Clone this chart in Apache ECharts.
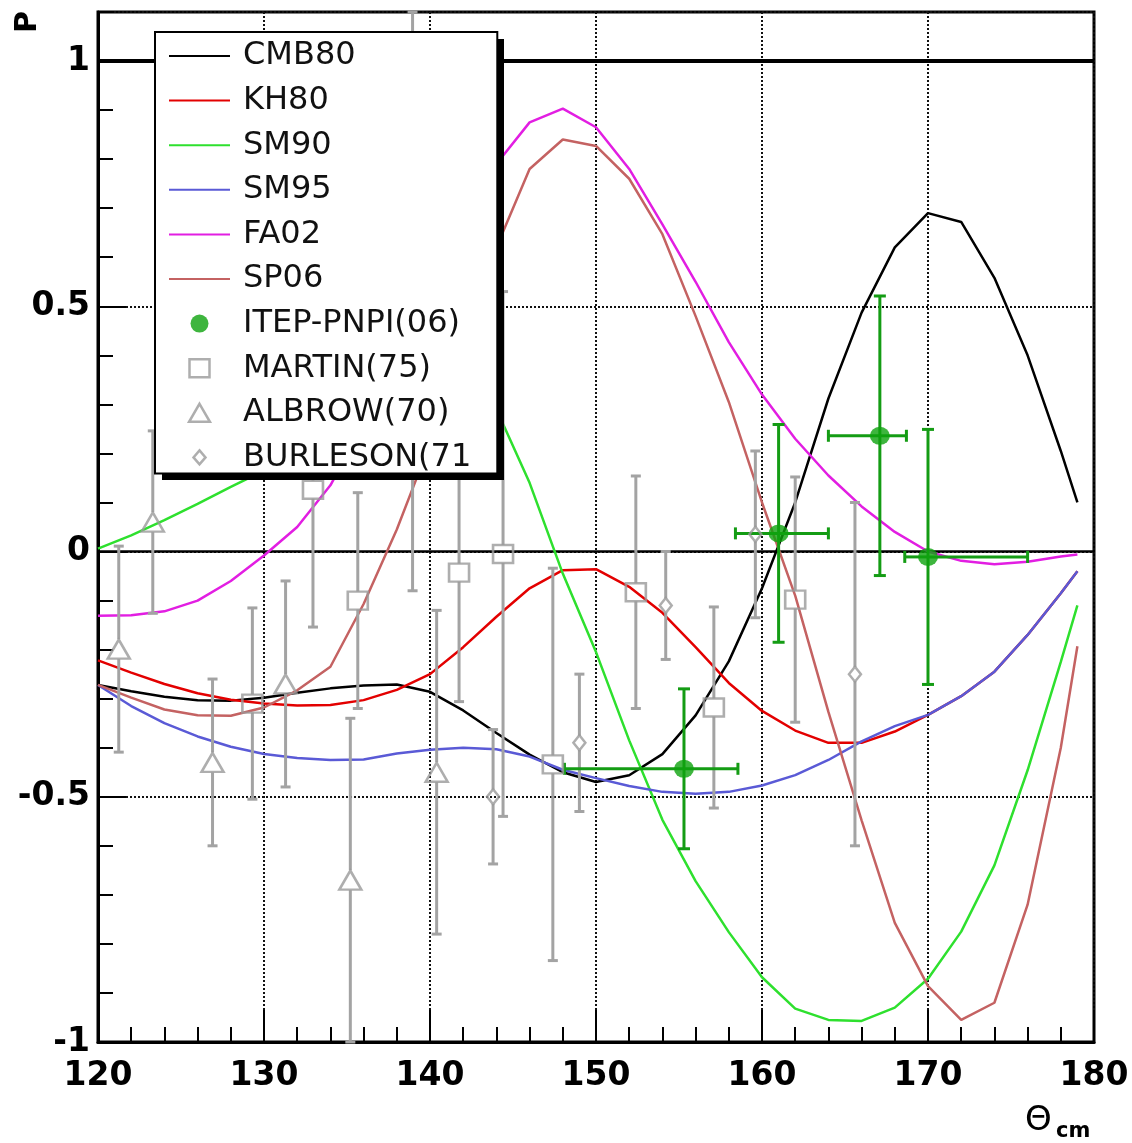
<!DOCTYPE html>
<html><head><meta charset="utf-8">
<script src="https://cdn.jsdelivr.net/npm/echarts@6/dist/echarts.min.js"></script>
<style>html,body{margin:0;padding:0;background:#fff}#c{width:1132px;height:1143px}</style>
</head><body><div id="c"></div>
<script>
// ---- data ----
const theta = [120,122,124,126,128,130,132,134,136,138,140,142,144,146,148,150,152,154,156,158,160,162,164,166,168,170,172,174,176,178,179];
const cmb80 = [-0.272,-0.285,-0.296,-0.303,-0.304,-0.298,-0.288,-0.279,-0.273,-0.271,-0.286,-0.324,-0.37,-0.414,-0.45,-0.47,-0.456,-0.413,-0.334,-0.224,-0.075,0.10,0.312,0.487,0.62,0.69,0.672,0.558,0.40,0.205,0.10];
const kh80  = [-0.222,-0.247,-0.27,-0.289,-0.302,-0.31,-0.314,-0.313,-0.303,-0.282,-0.25,-0.195,-0.133,-0.075,-0.038,-0.036,-0.072,-0.125,-0.195,-0.268,-0.325,-0.365,-0.39,-0.39,-0.367,-0.333,-0.295,-0.245,-0.17,-0.085,-0.04];
const sm90  = [0.006,0.033,0.064,0.097,0.132,0.165,0.23,0.30,0.36,0.40,0.41,0.38,0.29,0.14,-0.045,-0.205,-0.385,-0.547,-0.672,-0.776,-0.868,-0.932,-0.955,-0.957,-0.93,-0.871,-0.775,-0.64,-0.446,-0.225,-0.11];
const sm95  = [-0.272,-0.315,-0.35,-0.377,-0.398,-0.413,-0.421,-0.425,-0.424,-0.412,-0.404,-0.40,-0.403,-0.418,-0.445,-0.462,-0.478,-0.49,-0.494,-0.49,-0.477,-0.456,-0.425,-0.387,-0.356,-0.333,-0.295,-0.245,-0.17,-0.085,-0.04];
const fa02  = [-0.131,-0.13,-0.122,-0.1,-0.06,-0.008,0.05,0.135,0.26,0.40,0.54,0.67,0.79,0.875,0.903,0.865,0.78,0.667,0.55,0.427,0.32,0.23,0.155,0.092,0.04,0.0,-0.019,-0.026,-0.021,-0.01,-0.006];
const sp06  = [-0.272,-0.298,-0.322,-0.334,-0.335,-0.318,-0.283,-0.235,-0.107,0.045,0.22,0.42,0.62,0.78,0.84,0.827,0.76,0.647,0.48,0.305,0.10,-0.09,-0.327,-0.548,-0.757,-0.886,-0.955,-0.92,-0.72,-0.40,-0.193];

const itepX   = [155.3,161.0,167.1,170.0];
const itepY   = [-0.443,0.037,0.236,-0.011];
const itepErr = [0.163,0.222,0.285,0.26];
const itepXLo = [148.1,158.4,164.0,168.6];
const itepXHi = [158.55,164.0,168.7,176.0];

const martinX   = [129.3,132.95,135.65,138.95,141.75,144.4,147.4,152.4,157.1,162.0];
const martinY   = [-0.31,0.126,-0.10,0.51,-0.043,-0.005,-0.434,-0.083,-0.318,-0.098];
const martinErr = [0.195,0.28,0.22,0.59,0.263,0.535,0.40,0.237,0.205,0.25];

const albrowX   = [121.25,123.3,126.9,131.3,135.2,140.4];
const albrowY   = [-0.199,0.06,-0.43,-0.27,-0.67,-0.45];
const albrowErr = [0.21,0.186,0.17,0.21,0.33,0.33];

const burlesonX   = [143.8,149.0,154.2,159.6,165.6];
const burlesonY   = [-0.5,-0.39,-0.11,0.035,-0.25];
const burlesonErr = [0.137,0.14,0.11,0.17,0.35];

const xTicks = [120,130,140,150,160,170,180];
const yTickLabels = [-1,-0.5,0,0.5,1];

// ---- chart ----
const FONT = 'DejaVu Sans';
const GRAY = '#a3a3a3';
const GREEN = '#149c14';
function pairs(xs, ys){ return xs.map((x,i)=>[x, ys[i]]); }

const curves = [
  ['CMB80', cmb80, '#000000'],
  ['KH80',  kh80,  '#e30000'],
  ['SM90',  sm90,  '#2ee02e'],
  ['SM95',  sm95,  '#5a5ad6'],
  ['FA02',  fa02,  '#e21ee2'],
  ['SP06',  sp06,  '#c46262']
];

function errorBars(id, xs, ys, errs, lo, hi, color, gap, cap) {
  return {
    type: 'custom', name: id, z: 4, silent: true, clip: false,
    data: xs.map((x,i)=>[x, ys[i], errs[i], lo ? lo[i] : x, hi ? hi[i] : x]),
    renderItem: function (params, api) {
      const x = api.value(0), y = api.value(1), e = api.value(2), a = api.value(3), b = api.value(4);
      const c = api.coord([x, y]), t = api.coord([x, y + e]), d = api.coord([x, y - e]);
      const st = {stroke: color, lineWidth: 3};
      const ch = [];
      const L = (x1,y1,x2,y2) => ch.push({type:'line', shape:{x1,y1,x2,y2}, style:st});
      if (t[1] < c[1] - gap) { L(c[0], c[1]-gap, c[0], t[1]); L(c[0]-cap, t[1], c[0]+cap, t[1]); }
      if (d[1] > c[1] + gap) { L(c[0], c[1]+gap, c[0], d[1]); L(c[0]-cap, d[1], c[0]+cap, d[1]); }
      if (a < x) { const p = api.coord([a, y]); L(p[0], c[1], c[0]-gap, c[1]); L(p[0], c[1]-cap, p[0], c[1]+cap); }
      if (b > x) { const p = api.coord([b, y]); L(c[0]+gap, c[1], p[0], c[1]); L(p[0], c[1]-cap, p[0], c[1]+cap); }
      return {type:'group', children: ch};
    }
  };
}

const series = [];
curves.forEach(([n, v, col], i) => {
  const s = {type:'line', name:n, data:pairs(theta, v), symbol:'none', showSymbol:false, smooth:false,
    lineStyle:{color:col, width:2.5}, itemStyle:{color:col}, z:3, silent:true, clip:true};
  if (i === 0) {
    s.markLine = {symbol:'none', silent:true, label:{show:false}, z:2,
      data:[{yAxis:0, lineStyle:{color:'#000', width:2.5, type:'solid'}},
            {yAxis:1, lineStyle:{color:'#000', width:4, type:'solid'}}]};
  }
  series.push(s);
});
series.push(errorBars('errMARTIN', martinX, martinY, martinErr, null, null, GRAY, 9, 5));
series.push(errorBars('errALBROW', albrowX, albrowY, albrowErr, null, null, GRAY, 10, 5));
series.push(errorBars('errBURLESON', burlesonX, burlesonY, burlesonErr, null, null, GRAY, 7, 5));
series.push(errorBars('errITEP', itepX, itepY, itepErr, itepXLo, itepXHi, GREEN, 0, 6));

const hollow = {color:'rgba(255,255,255,0)', borderColor:'#9a9a9a', borderWidth:2.5};
series.push({type:'scatter', name:'ITEP-PNPI(06)', data:pairs(itepX, itepY), symbol:'circle', symbolSize:[20,18], itemStyle:{color:'#0ea30e'}, z:6, silent:true});
series.push({type:'scatter', name:'MARTIN(75)', data:pairs(martinX, martinY), symbol:'rect', symbolSize:[20,18], itemStyle:hollow, z:6, silent:true});
series.push({type:'scatter', name:'ALBROW(70)', data:pairs(albrowX, albrowY), symbol:'triangle', symbolSize:[22,19], itemStyle:hollow, z:6, silent:true});
series.push({type:'scatter', name:'BURLESON(71)', data:pairs(burlesonX, burlesonY), symbol:'diamond', symbolSize:[12,15], itemStyle:hollow, z:6, silent:true});

const noSym = {color:'rgba(0,0,0,0)', borderWidth:0, opacity:0};
const chart = echarts.init(document.getElementById('c'), null, {renderer:'canvas'});
chart.setOption({
  animation: false,
  backgroundColor: '#fff',
  grid: {left:98, right:38, top:12, bottom:101, show:true, borderColor:'#000', borderWidth:3, backgroundColor:'rgba(0,0,0,0)', outerBoundsMode:'none'},
  xAxis: {type:'value', min:xTicks[0], max:xTicks[xTicks.length-1], interval:10,
    axisLine:{show:true, onZero:false, lineStyle:{color:'#000', width:3}},
    axisTick:{show:true, inside:true, length:32, lineStyle:{color:'#000', width:2}},
    minorTick:{show:true, splitNumber:5, length:15, lineStyle:{color:'#000', width:2}},
    axisLabel:{fontFamily:FONT, fontWeight:'bold', fontSize:33, color:'#000', margin:18,
      formatter: v => xTicks.indexOf(v) >= 0 ? String(v) : ''},
    splitLine:{show:true, lineStyle:{color:'#111', width:2, type:[2,2]}}
  },
  yAxis: [
    {type:'value', min:-1, max:1.1, interval:0.5, position:'left',
      axisLine:{show:true, onZero:false, lineStyle:{color:'#000', width:3}},
      axisTick:{show:true, inside:true, length:28, lineStyle:{color:'#000', width:2}},
      axisLabel:{fontFamily:FONT, fontWeight:'bold', fontSize:33, color:'#000', margin:8, showMaxLabel:false,
        formatter: v => { for (const t of yTickLabels) if (Math.abs(t - v) < 1e-6) return String(t); return ''; }},
      splitLine:{show:true, lineStyle:{color:'#111', width:2, type:[2,2]}}
    },
    {type:'value', min:-1, max:1.1, interval:0.1, position:'left',
      axisLine:{show:false}, axisLabel:{show:false}, splitLine:{show:false},
      axisTick:{show:true, inside:true, length:15, lineStyle:{color:'#000', width:2}}
    }
  ],
  legend: {
    orient:'vertical', left:155, top:32, padding:[8,26,0,13], z:10,
    itemWidth:61, itemHeight:18, itemGap:12.6, selectedMode:false, symbolKeepAspect:true,
    backgroundColor:'#fff', borderColor:'#000', borderWidth:2,
    textStyle:{fontFamily:FONT, fontSize:32, color:'#111', lineHeight:32, width:226, padding:[0,0,0,8]},
    formatter: name => name === 'BURLESON(71)' ? 'BURLESON(71' : name,
    data:[
      {name:'CMB80', itemStyle:noSym}, {name:'KH80', itemStyle:noSym}, {name:'SM90', itemStyle:noSym},
      {name:'SM95', itemStyle:noSym}, {name:'FA02', itemStyle:noSym}, {name:'SP06', itemStyle:noSym},
      {name:'ITEP-PNPI(06)', itemStyle:{color:'#0ea30e', borderWidth:0}},
      {name:'MARTIN(75)', icon:'path://M1,0L21,0L21,18L1,18Z', itemStyle:hollow},
      {name:'ALBROW(70)', icon:'path://M11,0L22,19L0,19Z', itemStyle:hollow},
      {name:'BURLESON(71)', icon:'path://M0,0M18,18M9,2L15,9L9,16L3,9Z', itemStyle:hollow}
    ]
  },
  graphic: [
    {type:'rect', z:9, silent:true, shape:{x:162, y:39, width:342, height:441}, style:{fill:'#000'}},
    {type:'text', x:28, y:22, rotation:Math.PI/2, z:10,
      style:{text:'P', fontFamily:FONT, fontWeight:'bold', fontSize:30, fill:'#000', align:'center', verticalAlign:'middle'}},
    {type:'text', x:1025, y:1104, z:10,
      style:{text:'Θ', fontFamily:FONT, fontSize:34, fill:'#000'}},
    {type:'text', x:1056, y:1121, z:10,
      style:{text:'cm', fontFamily:FONT, fontWeight:'bold', fontSize:21, fill:'#000'}}
  ],
  series: series
});
</script></body></html>
